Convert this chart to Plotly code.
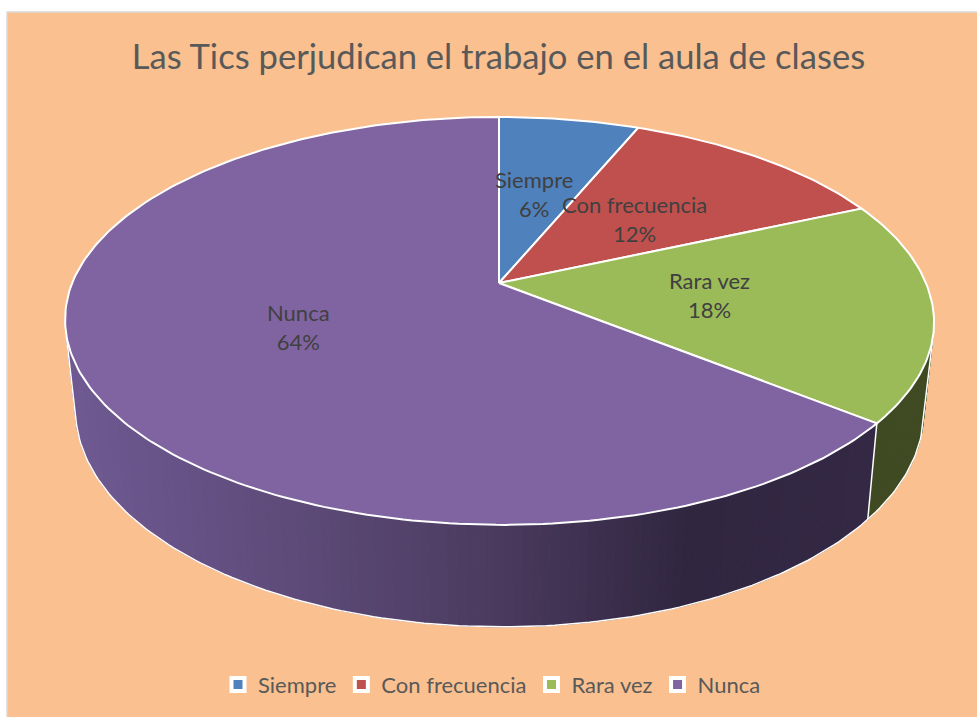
import math
import plotly.graph_objects as go

# ---- data ----
categories = ["Siempre", "Con frecuencia", "Rara vez", "Nunca"]
percent = [6, 12, 18, 64]
slice_colors = ["#4f81bd", "#c0504d", "#9bbb59", "#8064a2"]
side_colors = ["#2a4463", "#652a28", "#3f4a22", "#43355a"]
label_shift_x = [-3.5, -5, -4, 0]
label_shift_y = [-0.5, 1.5, -0.5, 0.5]

# ---- page / projection set-up (pixel-like axis units) ----
W, H = 977, 717
L, T = 7, 12
CX, CY = 499.0, 283.0
A, B, P = 426.9, 196.9, -0.186
SKEW = 0.015
FONT = "Lato"


def proj(r, deg):
    deg = deg + 1.0 * math.sin(math.radians(2 * deg)) + 0.5 * math.sin(math.radians(deg))
    th = math.radians(deg)
    u, v = r * math.sin(th), -r * math.cos(th)
    d = 1 + P * v
    y = CY + B * v / d
    x = CX + A * u / d + SKEW * max(0.0, y - CY)
    return x, y


def lower(x, y):
    return CX + 0.976 * (x - CX), y + 96 + 0.058 * (y - 422)


def hexmix(stops, x):
    for (x0, c0), (x1, c1) in zip(stops, stops[1:]):
        if x <= x1:
            t = max(0, (x - x0) / (x1 - x0))
            a = [int(c0[i:i + 2], 16) for i in (1, 3, 5)]
            b = [int(c1[i:i + 2], 16) for i in (1, 3, 5)]
            return "#%02x%02x%02x" % tuple(round(p + (q - p) * t) for p, q in zip(a, b))
    return stops[-1][1]


SHADE = [(60, "#6f5a93"), (300, "#5d4a78"), (500, "#4a3a5e"), (690, "#302640"), (880, "#342945")]

total = sum(percent)
edges = [0.0]
for p in percent:
    edges.append(edges[-1] + 360.0 * p / total)

fig = go.Figure()
SIL_R, SIL_L = 103.5, 256.5  # silhouette angles of the drum


def arc(a0, a1, n):
    return [a0 + (a1 - a0) * i / n for i in range(n + 1)]


# side walls
for idx in range(len(percent)):
    a0, a1 = max(edges[idx], SIL_R), min(edges[idx + 1], SIL_L)
    if a1 <= a0:
        continue
    n = max(2, int(a1 - a0))
    angs = arc(a0, a1, n)
    for g0, g1 in zip(angs, angs[1:]):
        sub = arc(g0, g1, 2)
        top = [proj(1, a) for a in sub]
        bot = [lower(*q) for q in top][::-1]
        pts = top + bot + [top[0]]
        xmid = sum(q[0] for q in top) / len(top)
        col = hexmix(SHADE, xmid) if idx == 3 else side_colors[idx]
        fig.add_trace(go.Scatter(x=[q[0] for q in pts], y=[q[1] for q in pts], mode="lines",
                                 fill="toself", fillcolor=col, line=dict(color=col, width=1),
                                 hoverinfo="skip", showlegend=False))

# white outline of the walls
rim = arc(SIL_R, SIL_L, 160)
top_rim = [proj(1, a) for a in rim]
bot_rim = [lower(*q) for q in top_rim]
outline = [top_rim[0]] + bot_rim + [top_rim[-1]]
fig.add_trace(go.Scatter(x=[q[0] for q in outline], y=[q[1] for q in outline], mode="lines",
                         line=dict(color="#ffffff", width=1.5), hoverinfo="skip", showlegend=False))
for e in edges[1:-1]:
    if SIL_R < e < SIL_L:
        q0 = proj(1, e)
        q1 = lower(*q0)
        fig.add_trace(go.Scatter(x=[q0[0], q1[0]], y=[q0[1], q1[1]], mode="lines",
                                 line=dict(color="#ffffff", width=1.5), hoverinfo="skip", showlegend=False))

# top wedges
for idx, name in enumerate(categories):
    a0, a1 = edges[idx], edges[idx + 1]
    pts = [proj(0, 0)] + [proj(1, a) for a in arc(a0, a1, max(4, int(a1 - a0)))] + [proj(0, 0)]
    fig.add_trace(go.Scatter(x=[q[0] for q in pts], y=[q[1] for q in pts], mode="lines",
                             fill="toself", fillcolor=slice_colors[idx],
                             line=dict(color="#ffffff", width=2), name=name,
                             hovertemplate=f"{name}: {percent[idx]}%<extra></extra>", showlegend=False))

# legend entries
for idx, name in enumerate(categories):
    fig.add_trace(go.Scatter(x=[None], y=[None], mode="markers", name=name,
                             marker=dict(symbol="square", size=13, color=slice_colors[idx],
                                         line=dict(color="#ffffff", width=4))))

# data labels
annots = []
for idx, name in enumerate(categories):
    x, y = proj(0.5, (edges[idx] + edges[idx + 1]) / 2)
    annots.append(dict(x=x + label_shift_x[idx], y=y + label_shift_y[idx], xref="x", yref="y",
                       text=f"{name}<br>{percent[idx]}%", showarrow=False, align="center",
                       font=dict(family=FONT, size=22, color="#404040")))

fig.update_layout(
    width=W, height=H, margin=dict(l=L, r=0, t=T, b=0),
    paper_bgcolor="#ffffff", plot_bgcolor="#fac08f",
    title=dict(text="Las Tics perjudican el trabajo en el aula de clases",
               x=498.5 / W, xanchor="center", y=1 - 57 / H, yanchor="middle",
               font=dict(family=FONT, size=34.6, color="#595959")),
    xaxis=dict(range=[L, W], visible=False, showgrid=False, zeroline=False, fixedrange=True),
    yaxis=dict(range=[H, T], visible=False, showgrid=False, zeroline=False, fixedrange=True),
    legend=dict(orientation="h", x=0.5, xanchor="center", y=0.0757, yanchor="top",
                font=dict(family=FONT, size=22, color="#595959"), bgcolor="rgba(0,0,0,0)",
                itemwidth=30, itemclick=False, itemdoubleclick=False),
    annotations=annots,
    shapes=[dict(type="rect", xref="paper", yref="paper", x0=0, x1=1.01, y0=-0.01, y1=1,
                 line=dict(color="#d9d9d9", width=1.5), fillcolor="rgba(0,0,0,0)", layer="above")],
)

fig.write_html("out.html", config=dict(displayModeBar=False),
               post_script="document.body.style.margin='0';document.body.style.overflow='hidden';")
